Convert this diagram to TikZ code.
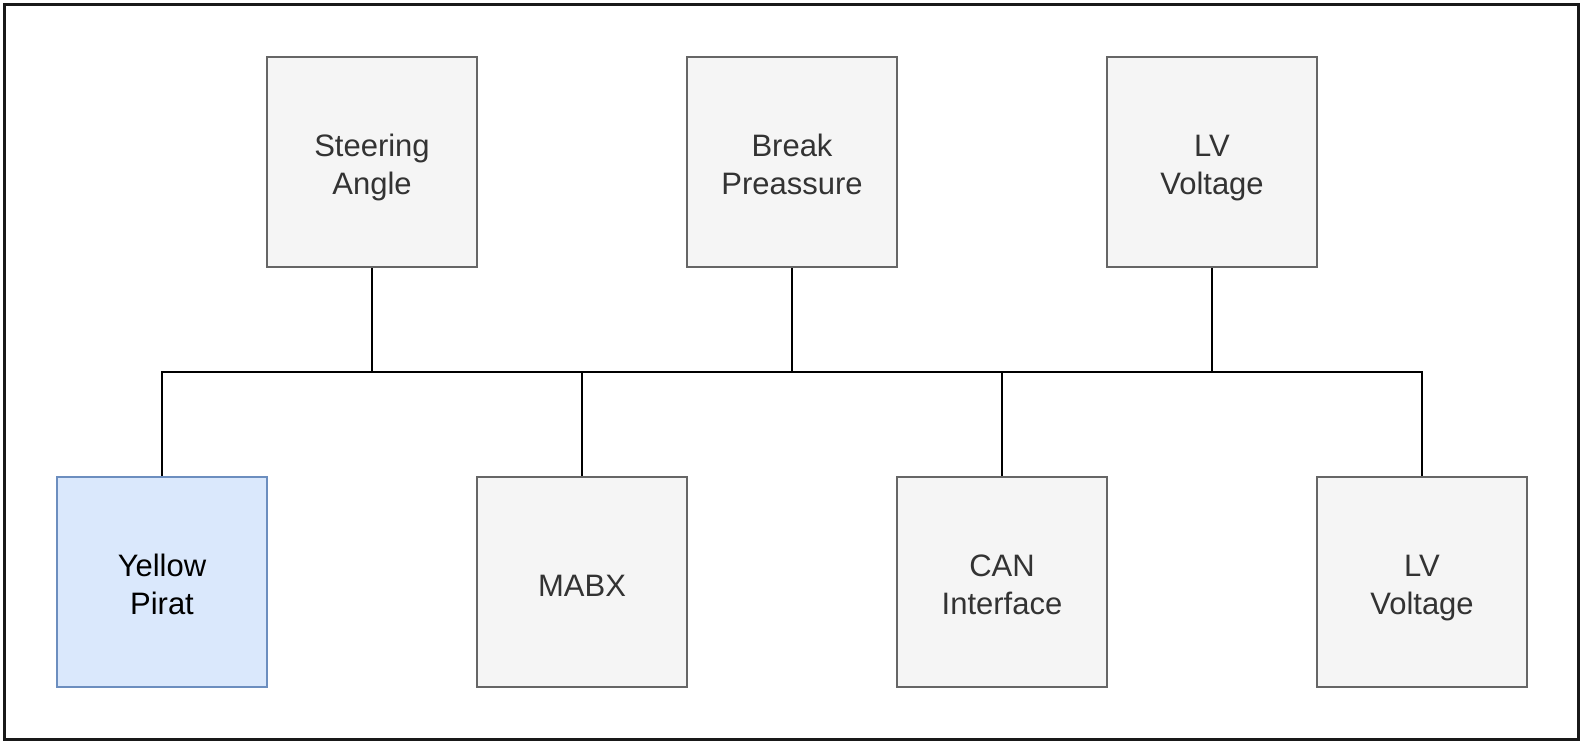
\documentclass[tikz,border=0pt]{standalone}
\usepackage{fontspec}
\setmainfont{Liberation Sans}
\definecolor{grayfill}{HTML}{F5F5F5}
\definecolor{grayline}{HTML}{666666}
\definecolor{bluefill}{HTML}{DAE8FC}
\definecolor{blueline}{HTML}{6C8EBF}
\definecolor{txt}{HTML}{333333}
\newcommand{\twolines}[2]{\begin{tabular}[t]{@{}c@{}}#1\\#2\end{tabular}}
\tikzset{
  blk/.style={draw=grayline, fill=grayfill, line width=2.2pt, minimum width=210pt, minimum height=210pt, inner sep=0pt},
  blueblk/.style={blk, draw=blueline, fill=bluefill},
  lbl/.style={anchor=base, inner sep=0pt, text=txt, font=\fontsize{31}{37.5}\selectfont},
  lbltwo/.style={lbl, yshift=5.5pt},
  lblone/.style={lbl, yshift=-14pt},
  wire/.style={draw=black, line width=2.3pt}
}
\begin{document}
\begin{tikzpicture}[x=1pt,y=-1pt]
\useasboundingbox (0,0) rectangle (1584,745);
\draw[black!90, line width=3pt] (4.5,4.5) rectangle (1578,739);
% top row
\node[blk] (sa) at (372,162) {};
\node[blk] (bp) at (792,162) {};
\node[blk] (lvt) at (1212,162) {};
% bottom row
\node[blueblk] (yp) at (162,582) {};
\node[blk] (mabx) at (582,582) {};
\node[blk] (can) at (1002,582) {};
\node[blk] (lvb) at (1422,582) {};
% labels
\node[lbltwo] (sa-t) at (sa.center) {\twolines{Steering}{Angle}};
\node[lbltwo] (bp-t) at (bp.center) {\twolines{Break}{Preassure}};
\node[lbltwo] (lvt-t) at (lvt.center) {\twolines{LV}{Voltage}};
\node[lbltwo, text=black] (yp-t) at (yp.center) {\twolines{Yellow}{Pirat}};
\node[lblone] (mabx-t) at (mabx.center) {MABX};
\node[lbltwo] (can-t) at (can.center) {\twolines{CAN}{Interface}};
\node[lbltwo] (lvb-t) at (lvb.center) {\twolines{LV}{Voltage}};
% bus
\coordinate (busl) at (162,372);
\coordinate (busr) at (1422,372);
\draw[wire] (yp.north) -- (busl) -- (busr) -- (lvb.north);
\draw[wire] (sa.south) -- (sa.south |- busl);
\draw[wire] (bp.south) -- (bp.south |- busl);
\draw[wire] (lvt.south) -- (lvt.south |- busl);
\draw[wire] (mabx.north) -- (mabx.north |- busl);
\draw[wire] (can.north) -- (can.north |- busl);
\end{tikzpicture}
\end{document}
